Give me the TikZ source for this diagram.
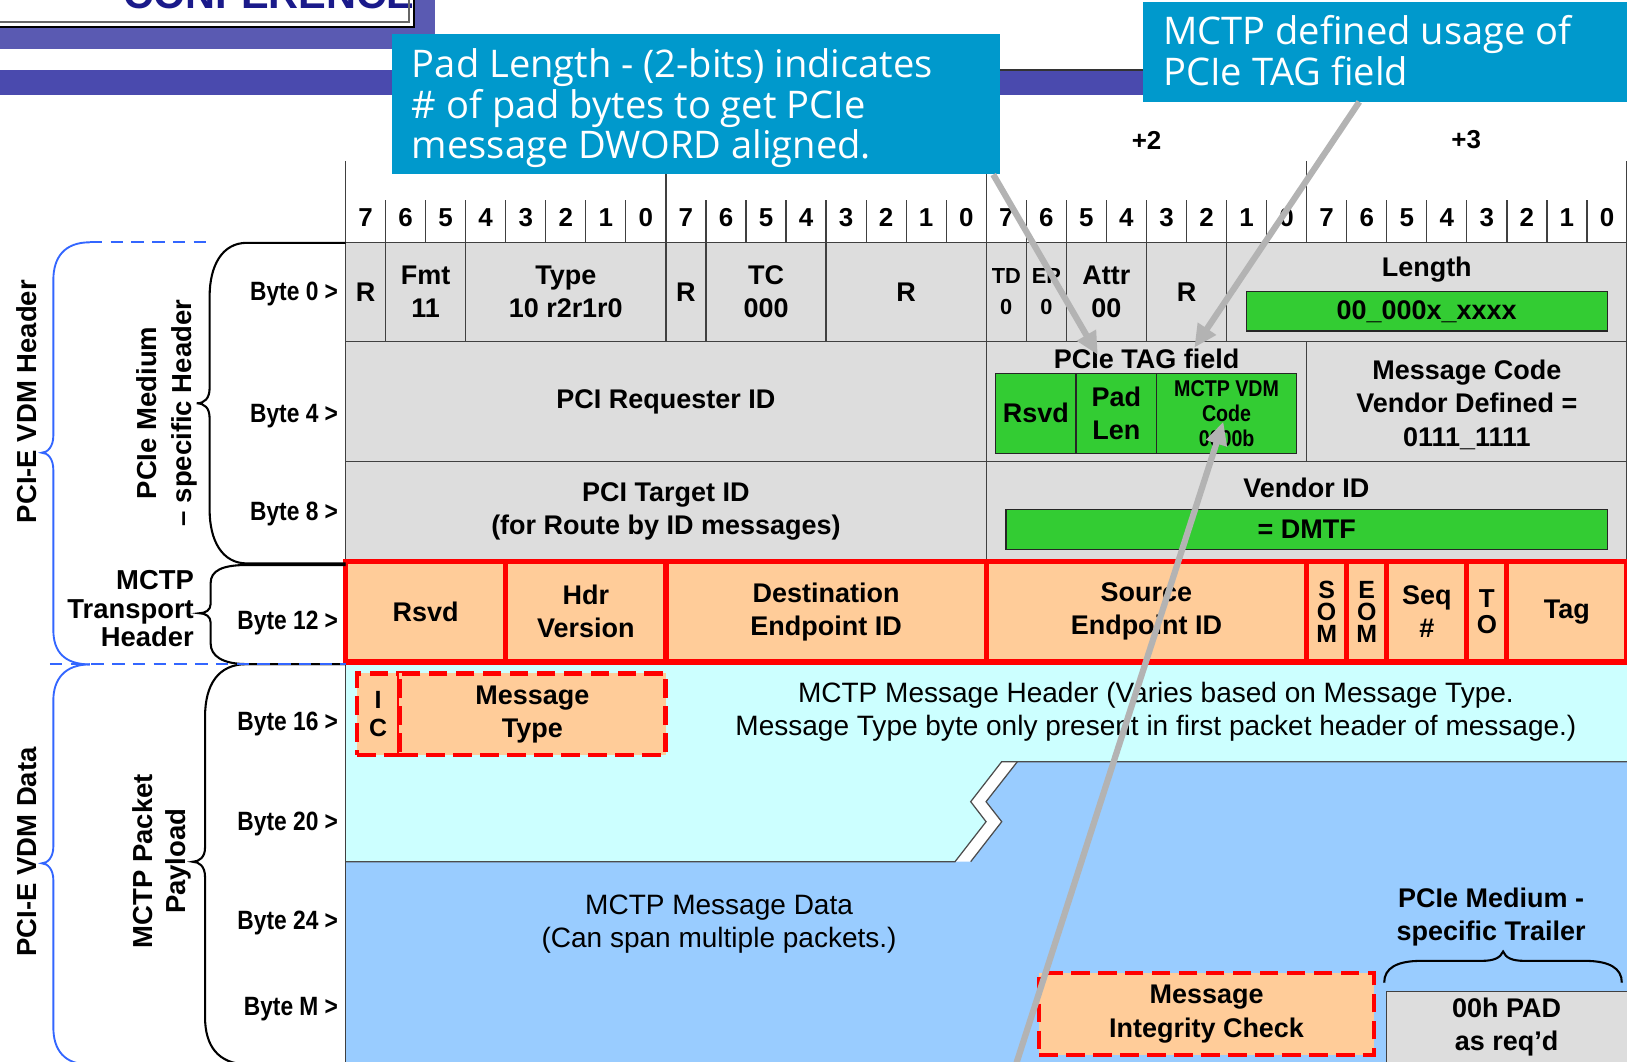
\documentclass[tikz,border=0pt]{standalone}
\usepackage{fontspec}
\setmainfont{Liberation Sans}
\newfontfamily\narrowsf[FakeStretch=0.86]{Liberation Sans}
\newfontfamily\calloutsf{Open Sans}
\usetikzlibrary{arrows.meta}
\definecolor{cellgray}{HTML}{DDDDDD}
\definecolor{grn}{HTML}{33CC33}
\definecolor{org}{HTML}{FFCC99}
\definecolor{hdrcyan}{HTML}{CCFFFF}
\definecolor{datablue}{HTML}{99CCFF}
\definecolor{callblue}{HTML}{0099CC}
\definecolor{ptrgray}{HTML}{B3B3B3}
\definecolor{bracecol}{HTML}{3366FF}
\definecolor{banner}{HTML}{5A5AB2}
\definecolor{bannerdk}{HTML}{4A4AAE}
\definecolor{logotxt}{HTML}{1A1A8A}
\tikzset{
  cell/.style={draw=black!75, line width=1.2pt, fill=cellgray, inner sep=0pt, outer sep=0pt, align=center, font=\bfseries\fontsize{26}{32}\selectfont},
  wd/.style={minimum width=#1},
  r1/.style={cell, minimum height=95.5},
  r2/.style={cell, minimum height=116},
  r3/.style={cell, minimum height=96},
  r4/.style={cell, fill=org, draw=red, line width=5pt, minimum height=97},
  grnbox/.style={cell, fill=grn, draw=black!85},
  dashbox/.style={cell, fill=org, draw=red, line width=4.5pt, dash pattern=on 18pt off 8pt},
  txt/.style={inner sep=0pt, align=center, font=\bfseries\fontsize{26}{32}\selectfont},
  plain/.style={inner sep=0pt, align=center, font=\fontsize{27}{32}\selectfont},
  bytelbl/.style={inner sep=0pt, anchor=base east, font=\narrowsf\bfseries\fontsize{25.5}{30}\selectfont},
  bitnum/.style={inner sep=0pt, font=\bfseries\fontsize{25}{30}\selectfont},
  grid/.style={draw=black!75, line width=1.2pt},
  callout/.style={fill=callblue, inner sep=0pt},
  calltxt/.style={inner sep=0pt, anchor=west, align=left, text=white, font=\calloutsf\fontsize{36.7}{39}\selectfont},
  ptr/.style={draw=ptrgray, line width=6pt, -{Triangle[length=22pt,width=20pt]}},
  brc/.style={draw=black, line width=2pt},
  bbrc/.style={draw=bracecol, line width=1.8pt},
}
\begin{document}
\begin{tikzpicture}[x=1pt, y=-1pt]
\useasboundingbox (0,0) rectangle (1568,1023);

% slide banner
\fill[banner] (0,0) rectangle (419,47.6);
\fill[bannerdk] (0,67.5) rectangle (1110,91.6);
\draw[black!80, line width=1.5pt] (964,67.5) -- (1110,67.5);
\fill[white] (-10,-10) rectangle (398,25);
\begin{scope}
\clip (0,0) rectangle (398,21);
\node[inner sep=0pt, anchor=base west, text=logotxt, font=\bfseries\fontsize{40}{40}\selectfont] (logo) at (119,8) {CONFERENCE};
\end{scope}
\draw[black!60, line width=2pt] (-10,21.5) -- (394,21.5) -- (394,-10);
\draw[black, line width=2.5pt] (-10,26) -- (399,26) -- (399,-10);

% bit ruler
\foreach \x in {333,641.75,950.5,1259.25,1568}
  \draw[grid] (\x,155) -- (\x,234);
\foreach \k in {1,...,31}
  \draw[grid] ({333+\k*38.59375},193) -- ({333+\k*38.59375},234);
\foreach \k in {0,...,31}{
  \pgfmathtruncatemacro\b{7-mod(\k,8)}
  \node[bitnum] (bit\k) at ({333+(\k+0.5)*38.59375},210) {\b};
}
\node[bitnum] (plus2) at (1105,135) {+2};
\node[bitnum] (plus3) at (1413,135) {+3};

% payload area
\fill[datablue] (333,638) rectangle (1575,1030);
\fill[hdrcyan] (333,638) -- (1575,638) -- (1575,734) -- (965.4,734) -- (935.5,772.6) -- (950.3,791.9) -- (920.4,830.4) -- (333,830.4) -- cycle;
\fill[white] (965.4,734) -- (980.5,734) -- (950.3,772.6) -- (965.4,791.9) -- (935.5,830.4) -- (920.4,830.4) -- (950.3,791.9) -- (935.5,772.6) -- cycle;
\draw[black!70, line width=1.2pt] (333,830.4) -- (920.4,830.4) -- (950.3,791.9) -- (935.5,772.6) -- (965.4,734) -- (1575,734);
\draw[black!70, line width=1.2pt] (935.5,830.4) -- (965.4,791.9) -- (950.3,772.6) -- (980.5,734);
\draw[grid] (333,638) -- (333,1030);

% byte 0
\node[r1, wd=38.59] (r0a) at (352.3,281.25) {R};
\node[r1, wd=77.19] (fmt) at (410.19,281.25) {Fmt\\11};
\node[r1, wd=192.97] (type) at (545.27,281.25) {Type\\10 r2r1r0};
\node[r1, wd=38.59] (r0b) at (661.05,281.25) {R};
\node[r1, wd=115.79] (tc) at (738.24,281.25) {TC\\000};
\node[r1, wd=154.37] (r0c) at (873.31,281.25) {R};
\node[r1, wd=38.59, font=\bfseries\fontsize{21}{30}\selectfont] (td) at (969.8,281.25) {TD\\0};
\node[r1, wd=38.59, font=\bfseries\fontsize{21}{30}\selectfont] (ep) at (1008.39,281.25) {EP\\0};
\node[r1, wd=77.19] (attr) at (1066.28,281.25) {Attr\\00};
\node[r1, wd=77.19] (r0d) at (1143.47,281.25) {R};
\node[r1, wd=385.94] (len) at (1375.03,281.25) {};
\node[txt] (lenlbl) at (1375,260) {Length};
\node[grnbox, minimum width=348, minimum height=38] (lenval) at (1375,300) {00\_000x\_xxxx};

% byte 4
\node[r2, wd=617.5] (reqid) at (641.75,387) {PCI Requester ID};
\node[r2, wd=308.75] (tagf) at (1104.88,387) {};
\node[txt] (taglbl) at (1105,346) {PCIe TAG field};
\node[grnbox, minimum width=77.4, minimum height=77.1] (rsvdg) at (998.3,398.35) {Rsvd};
\node[grnbox, minimum width=77.7, minimum height=77.1] (padlen) at (1075.85,398.35) {Pad\\Len};
\node[grnbox, minimum width=134.8, minimum height=77.1, font=\narrowsf\bfseries\fontsize{22}{24}\selectfont] (vdmcode) at (1182.1,398.35) {MCTP VDM\\Code\\0000b};
\node[r2, wd=308.75] (msgcode) at (1413.63,387) {};
\node[txt] (msgtxt) at (1413.63,390) {Message Code\\Vendor Defined =\\0111\_1111};

% byte 8
\node[r3, wd=617.5] (tgtid) at (641.75,493) {PCI Target ID\\(for Route by ID messages)};
\node[r3, wd=617.5] (vendor) at (1259.25,493) {};
\node[txt] (venlbl) at (1259,470) {Vendor ID};
\node[grnbox, minimum width=579.4, minimum height=38.4] (dmtf) at (1259.3,510.2) {= DMTF};

% byte 12
\node[r4, wd=154.38] (rsvd) at (410.19,589.5) {Rsvd};
\node[r4, wd=154.37] (hdrv) at (564.56,589.5) {Hdr\\Version};
\node[r4, wd=308.75] (dest) at (796.13,589.5) {Destination\\Endpoint ID};
\node[r4, wd=308.75] (src) at (1104.88,589.5) {Source\\Endpoint ID};
\node[r4, wd=38.59, font=\bfseries\fontsize{24}{21}\selectfont] (som) at (1278.55,589.5) {S\\O\\M};
\node[r4, wd=38.59, font=\bfseries\fontsize{24}{21}\selectfont] (eom) at (1317.14,589.5) {E\\O\\M};
\node[r4, wd=77.19] (seq) at (1375.03,589.5) {Seq\\\#};
\node[r4, wd=38.59, font=\bfseries\fontsize{25}{25}\selectfont] (to) at (1432.92,589.5) {T\\O};
\node[r4, wd=115.78] (tag) at (1510.11,589.5) {Tag};

% byte 16 onwards
\node[dashbox, minimum width=40.8, minimum height=78.6, font=\bfseries\fontsize{24}{27}\selectfont] (ic) at (364.3,688.3) {I\\C};
\node[dashbox, minimum width=256.9, minimum height=78.6] (msgtype) at (513.15,688.3) {Message\\Type};
\node[plain] (hdrtxt) at (1114,686) {MCTP Message Header (Varies based on Message Type.\\Message Type byte only present in first packet header of message.)};
\node[plain] (datatxt) at (693,890.5) {MCTP Message Data\\(Can span multiple packets.)};
\node[dashbox, minimum width=322.8, minimum height=79] (mic) at (1162.8,977.3) {Message\\Integrity Check};
\node[cell, minimum width=239, minimum height=74.3] (pad0) at (1455.5,992.85) {};
\node[txt] (padtxt) at (1452,989.5) {00h PAD\\as req’d};
\node[txt] (trl) at (1437,884) {PCIe Medium -\\specific Trailer};
\draw[brc] (1334,947) .. controls (1334,933) and (1346,926) .. (1370,926) -- (1428,926) .. controls (1440,926) and (1446,923) .. (1448.6,917) .. controls (1451,923) and (1457,926) .. (1469,926) -- (1527,926) .. controls (1551,926) and (1563,933) .. (1563,947);

% left side
\node[bytelbl] (b0) at (326,290) {Byte 0 >};
\node[bytelbl] (b4) at (326,406.8) {Byte 4 >};
\node[bytelbl] (b8) at (326,502) {Byte 8 >};
\node[bytelbl] (b12) at (326,606.6) {Byte 12 >};
\node[bytelbl] (b16) at (326,703.7) {Byte 16 >};
\node[bytelbl] (b20) at (326,800) {Byte 20 >};
\node[bytelbl] (b24) at (326,895.8) {Byte 24 >};
\node[bytelbl] (bM) at (326,978.6) {Byte M >};

\draw[brc] (333,234) -- (238,234) .. controls (214,234) and (202,256) .. (202,286) -- (202,374) .. controls (202,384) and (197,388.7) .. (189.5,388.7) .. controls (197,388.7) and (202,393) .. (202,403) -- (202,491) .. controls (202,521) and (214,543) .. (238,543) -- (333,543);
\draw[brc] (333,544.5) -- (238,544.5) .. controls (214,544.5) and (203,550) .. (203,562) -- (203,582) .. controls (203,588) and (198,591) .. (192,591) .. controls (198,591) and (203,594) .. (203,600) -- (203,620) .. controls (203,632) and (214,640) .. (238,640) -- (333,640);
\draw[brc] (333,640) -- (238,640) .. controls (210,640) and (197.6,660) .. (197.6,691) -- (197.6,817) .. controls (197.6,826) and (192,830.5) .. (185.7,830.5) .. controls (192,830.5) and (197.6,835) .. (197.6,845) -- (197.6,980) .. controls (197.6,1008) and (210,1025) .. (238,1026);

\draw[bbrc] (86.7,233.5) .. controls (62,233.5) and (51.4,248) .. (51.4,270) -- (51.4,420) .. controls (51.4,430) and (46,436.3) .. (40.2,436.3) .. controls (46,436.3) and (51.4,442) .. (51.4,453) -- (51.4,607) .. controls (51.4,628) and (62,640.3) .. (86.7,640.3);
\draw[bbrc] (86.7,640.3) .. controls (62,640.3) and (51.4,655) .. (51.4,675) -- (51.4,816) .. controls (51.4,826) and (46,832) .. (40.2,832) .. controls (46,832) and (51.4,838) .. (51.4,848) -- (51.4,990) .. controls (51.4,1012) and (62,1026) .. (86.7,1026);
\draw[bbrc, dash pattern=on 12pt off 8pt] (86.7,233.5) -- (202,233.5);
\draw[bbrc, dash pattern=on 12pt off 8pt] (48,640.3) -- (333,640.3);

\node[txt, rotate=90, font=\bfseries\fontsize{26.5}{32}\selectfont] (vdmhdr) at (26,387) {PCI-E VDM Header};
\node[txt, rotate=90, font=\bfseries\fontsize{26.5}{33.7}\selectfont] (medhdr) at (161,398) {PCIe Medium\\– specific Header};
\node[txt, anchor=east, align=right, font=\bfseries\fontsize{26.4}{27.3}\selectfont] (trhdr) at (187,586.5) {MCTP\\Transport\\Header};
\node[txt, rotate=90, font=\bfseries\fontsize{26.5}{32}\selectfont] (vdmdata) at (26,821) {PCI-E VDM Data};
\node[txt, rotate=90, font=\bfseries\fontsize{26.5}{32}\selectfont] (payload) at (156,830) {MCTP Packet\\Payload};

% callouts
\node[callout, minimum width=586, minimum height=135] (pad) at (671,100.5) {};
\node[calltxt] (padnote) at ([xshift=19pt, yshift=-4pt]pad.west) {Pad Length - (2-bits) indicates\\\# of pad bytes to get PCIe\\message DWORD aligned.};
\node[callout, minimum width=478, minimum height=96] (mctp) at (1341,50) {};
\node[calltxt] (mctpnote) at ([xshift=19pt, yshift=1pt]mctp.west) {MCTP defined usage of\\PCIe TAG field};

\coordinate (padtip) at (1058,342);
\coordinate (tagtip) at (1151,335);
\coordinate (codetip) at (1179,406.4);
\coordinate (codetail) at (977.8,1030);
\draw[ptr] ([xshift=-7pt]pad.south east) -- (padtip);
\draw[ptr] ([xshift=-31pt]mctp.south) -- (tagtip);
\draw[ptr] (codetail) -- (codetip);
\end{tikzpicture}
\end{document}
